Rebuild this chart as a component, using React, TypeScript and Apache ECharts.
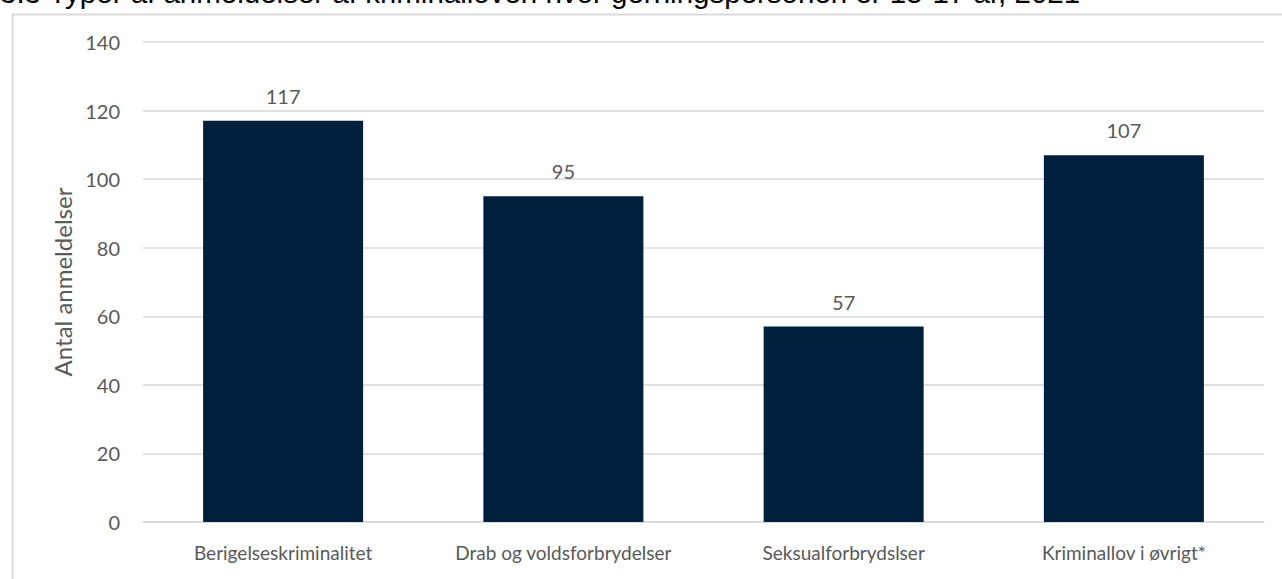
import React, { useEffect, useRef } from "react";
import * as echarts from "echarts";

const categories = [
  "Berigelseskriminalitet",
  "Drab og voldsforbrydelser",
  "Seksualforbrydslser",
  "Kriminallov i øvrigt*",
];
const values = [117, 95, 57, 107];
const titleText = "3.3 Typer af anmeldelser af kriminalloven hvor gerningspersonen er 15-17 år, 2021";
const yAxisName = "Antal anmeldelser";

export default function App() {
  const ref = useRef<HTMLDivElement>(null);
  useEffect(() => {
    if (!ref.current) return;
    const chart = echarts.init(ref.current, undefined, { renderer: "svg" });
    const font = "Lato";
    chart.setOption({
      animation: false,
      backgroundColor: "#ffffff",
      graphic: [
        {
          type: "rect",
          left: 10,
          top: 12,
          shape: { x: 0, y: 0, width: 1300, height: 600 },
          style: { fill: "none", stroke: "#d9d9d9", lineWidth: 2 },
          silent: true,
        },
        {
          type: "text",
          x: 0,
          y: -8,
          style: {
            text: titleText,
            font: '29.5px "Liberation Sans"',
            fill: "#000000",
            verticalAlign: "middle",
            align: "left",
          },
          silent: true,
        },
      ],
      grid: { left: 143, right: 18, top: 42, bottom: 57, containLabel: false },
      xAxis: {
        type: "category",
        data: categories,
        axisLine: { show: true, lineStyle: { color: "#d9d9d9", width: 1.5 } },
        axisTick: { show: false },
        axisLabel: {
          color: "#595959",
          fontFamily: font,
          fontSize: 19,
          margin: 21,
          interval: 0,
        },
      },
      yAxis: {
        type: "value",
        min: 0,
        max: 140,
        interval: 20,
        name: yAxisName,
        nameLocation: "middle",
        nameGap: 69,
        nameTextStyle: { color: "#595959", fontFamily: font, fontSize: 24 },
        axisLine: { show: false },
        axisTick: { show: false },
        splitLine: { lineStyle: { color: "#d9d9d9", width: 1.5 } },
        axisLabel: { color: "#595959", fontFamily: font, fontSize: 20, margin: 23 },
      },
      series: [
        {
          type: "bar",
          data: values,
          barWidth: 160,
          itemStyle: { color: "#011e3c" },
          label: {
            show: true,
            position: "top",
            distance: 15,
            color: "#595959",
            fontFamily: font,
            fontSize: 20,
          },
        },
      ],
    });
    return () => chart.dispose();
  }, []);
  return (
    <div
      ref={ref}
      style={{ position: "absolute", left: 0, top: 0, width: 1282, height: 579 }}
    />
  );
}
